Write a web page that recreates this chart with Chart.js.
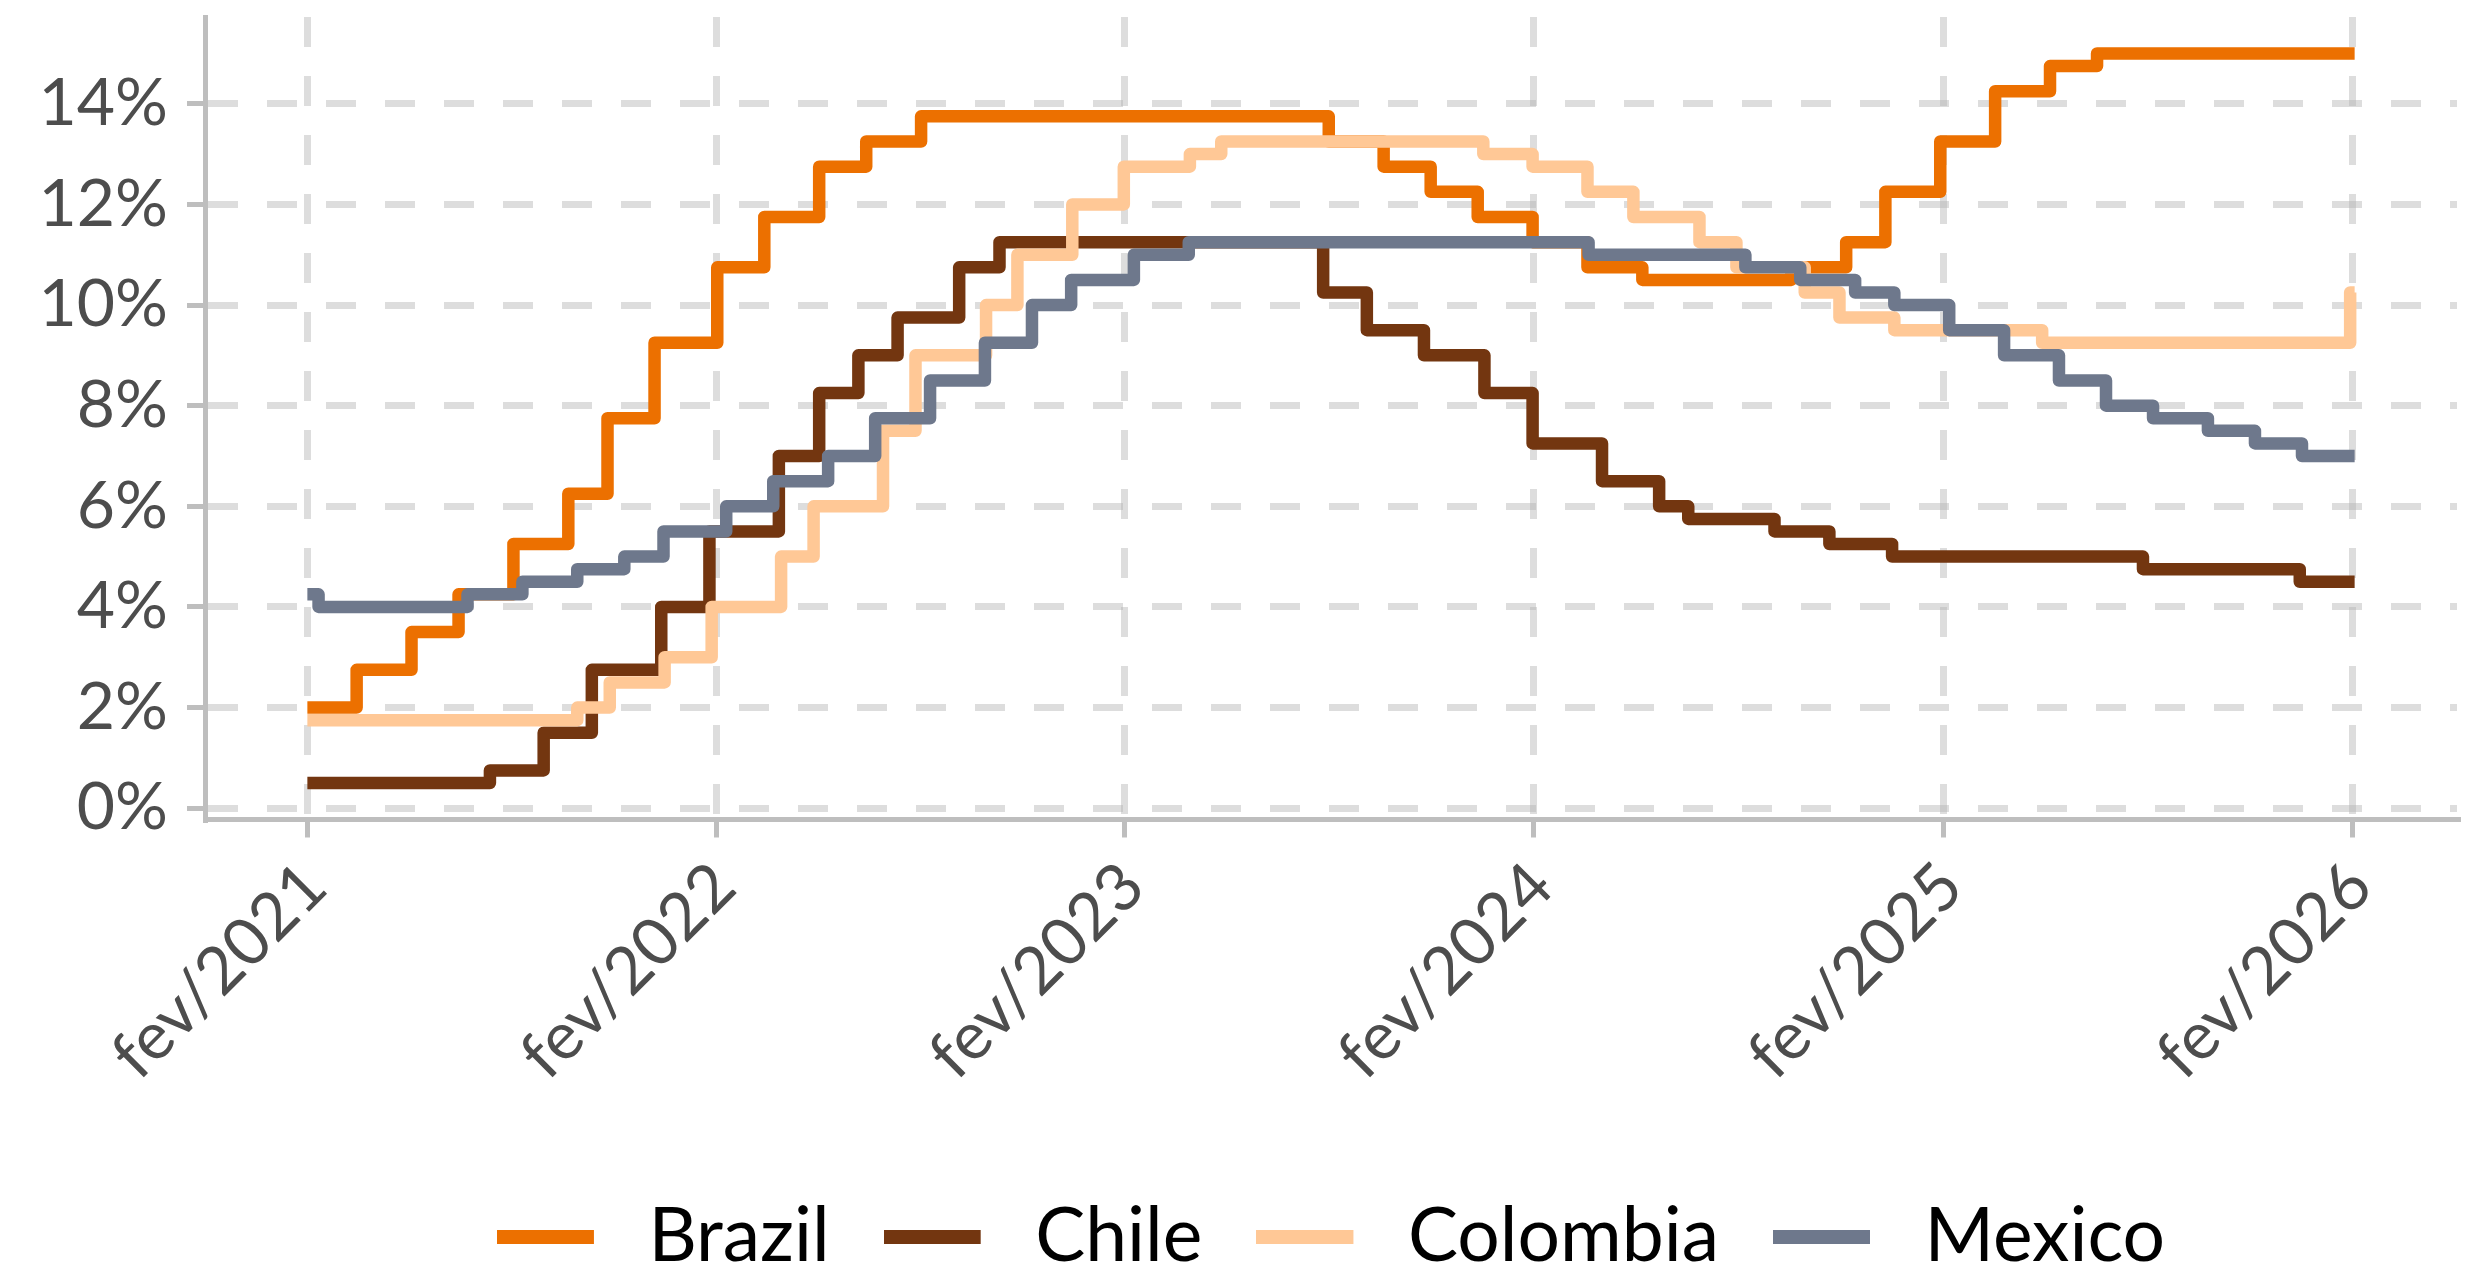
<!DOCTYPE html>
<html>
<head>
<meta charset="utf-8">
<title>Policy rates</title>
<script src="https://cdn.jsdelivr.net/npm/chart.js@4.4.1/dist/chart.umd.min.js"></script>
<style>
  html, body { margin: 0; padding: 0; background: #ffffff; }
  canvas { display: block; }
</style>
</head>
<body>
<canvas id="chart" width="2470" height="1276"></canvas>
<script>
// Policy rates (% a.a.), one entry per rate change
const brazilDates = ['2021-02-01', '2021-03-17', '2021-05-05', '2021-06-16', '2021-08-04', '2021-09-22', '2021-10-27', '2021-12-08',
    '2022-02-02', '2022-03-16', '2022-05-04', '2022-06-15', '2022-08-03', '2023-08-02', '2023-09-20', '2023-11-01', '2023-12-13',
    '2024-01-31', '2024-03-20', '2024-05-08', '2024-09-18', '2024-11-06', '2024-12-11', '2025-01-29', '2025-03-19', '2025-05-07', '2025-06-18'];
const brazilRates = [2.00, 2.75, 3.50, 4.25, 5.25, 6.25, 7.75, 9.25,
    10.75, 11.75, 12.75, 13.25, 13.75, 13.25, 12.75, 12.25, 11.75,
    11.25, 10.75, 10.50, 10.75, 11.25, 12.25, 13.25, 14.25, 14.75, 15.00];

const chileDates = ['2021-02-01', '2021-07-14', '2021-08-31', '2021-10-13', '2021-12-14', '2022-01-26', '2022-03-29', '2022-05-04',
    '2022-06-08', '2022-07-13', '2022-09-06', '2022-10-12', '2023-07-28', '2023-09-05', '2023-10-26', '2023-12-19',
    '2024-01-31', '2024-04-02', '2024-05-23', '2024-06-18', '2024-09-03', '2024-10-22', '2024-12-17', '2025-07-29', '2025-12-16'];
const chileRates = [0.50, 0.75, 1.50, 2.75, 4.00, 5.50, 7.00, 8.25,
    9.00, 9.75, 10.75, 11.25, 10.25, 9.50, 9.00, 8.25,
    7.25, 6.50, 6.00, 5.75, 5.50, 5.25, 5.00, 4.75, 4.50];

const colombiaDates = ['2021-02-01', '2021-09-30', '2021-10-29', '2021-12-17', '2022-01-28', '2022-03-31', '2022-04-29', '2022-06-30',
    '2022-07-29', '2022-09-30', '2022-10-28', '2022-12-16', '2023-01-31', '2023-03-31', '2023-04-28', '2023-12-18',
    '2024-01-31', '2024-03-20', '2024-04-30', '2024-06-28', '2024-07-31', '2024-09-30', '2024-10-31', '2024-12-19', '2025-04-30', '2026-01-30'];
const colombiaRates = [1.75, 2.00, 2.50, 3.00, 4.00, 5.00, 6.00, 7.50,
    9.00, 10.00, 11.00, 12.00, 12.75, 13.00, 13.25, 13.00,
    12.75, 12.25, 11.75, 11.25, 10.75, 10.25, 9.75, 9.50, 9.25, 10.25];

const mexicoDates = ['2021-02-01', '2021-02-11', '2021-06-24', '2021-08-12', '2021-09-30', '2021-11-11', '2021-12-16', '2022-02-10',
    '2022-03-24', '2022-05-12', '2022-06-23', '2022-08-11', '2022-09-29', '2022-11-10', '2022-12-15', '2023-02-09', '2023-03-30',
    '2024-03-21', '2024-08-08', '2024-09-26', '2024-11-14', '2024-12-19', '2025-02-06', '2025-03-27', '2025-05-15', '2025-06-26',
    '2025-08-07', '2025-09-25', '2025-11-06', '2025-12-18'];
const mexicoRates = [4.25, 4.00, 4.25, 4.50, 4.75, 5.00, 5.50, 6.00,
    6.50, 7.00, 7.75, 8.50, 9.25, 10.00, 10.50, 11.00, 11.25,
    11.00, 10.75, 10.50, 10.25, 10.00, 9.50, 9.00, 8.50, 8.00,
    7.75, 7.50, 7.25, 7.00];

const startDate = '2021-02-01';
const endDate = '2026-02-03';

const tickYears = [2021, 2022, 2023, 2024, 2025, 2026];
const tickLabels = ['fev/2021', 'fev/2022', 'fev/2023', 'fev/2024', 'fev/2025', 'fev/2026'];
const yTicks = [0, 2, 4, 6, 8, 10, 12, 14];

const toTime = (d) => Date.parse(d + 'T00:00:00Z');

// step series: hold each rate until the next change, close at endDate
const toPoints = (dates, rates) => {
    const pts = dates.map((d, i) => ({ x: toTime(d), y: rates[i] }));
    pts.push({ x: toTime(endDate), y: rates[rates.length - 1] });
    return pts;
};

// ggplot-like 5% expansion
const t0 = toTime(startDate), t1 = toTime(endDate);
const xMin = t0 - 0.05 * (t1 - t0);
const xMax = t1 + 0.05 * (t1 - t0);
const allRates = [].concat(brazilRates, chileRates, colombiaRates, mexicoRates);
const rLo = Math.min(...allRates), rHi = Math.max(...allRates);
const yMin = rLo - 0.05 * (rHi - rLo);
const yMax = rHi + 0.05 * (rHi - rLo);

const gridColor = 'rgba(180, 180, 180, 0.45)';
const axisColor = '#BEBEBE';
const tickFont = { family: 'Lato', size: 66 };

// legend key: short bar, with a bit of room before the label
const makeKey = (color) => {
    const c = document.createElement('canvas');
    c.width = 114;
    c.height = 14;
    const g = c.getContext('2d');
    g.fillStyle = color;
    g.fillRect(0, 0, 97, 14);
    return c;
};

const series = [
    { label: 'Brazil', dates: brazilDates, rates: brazilRates, color: '#EC7000', order: 4 },
    { label: 'Chile', dates: chileDates, rates: chileRates, color: '#733610', order: 3 },
    { label: 'Colombia', dates: colombiaDates, rates: colombiaRates, color: '#FFC896', order: 2 },
    { label: 'Mexico', dates: mexicoDates, rates: mexicoRates, color: '#6E788C', order: 1 }
];

const ctx = document.getElementById('chart').getContext('2d');
new Chart(ctx, {
    type: 'line',
    data: {
        datasets: series.map(s => ({
            label: s.label,
            data: toPoints(s.dates, s.rates),
            borderColor: s.color,
            backgroundColor: s.color,
            borderWidth: 12.5,
            borderJoinStyle: 'round',
            borderCapStyle: 'butt',
            stepped: 'before',
            pointRadius: 0,
            fill: false,
            order: s.order
        }))
    },
    options: {
        responsive: false,
        devicePixelRatio: 1,
        animation: false,
        events: [],
        layout: { padding: { top: 17, right: 13, left: 0, bottom: -8 } },
        scales: {
            x: {
                type: 'linear',
                min: xMin,
                max: xMax,
                afterBuildTicks: (s) => { s.ticks = tickYears.map(y => ({ value: Date.UTC(y, 1, 1) })); },
                afterFit: (s) => { s.height = 325.5; s.paddingLeft = 0; s.paddingRight = 0; },
                grid: { color: gridColor, lineWidth: 7, tickColor: axisColor, tickWidth: 5, tickLength: 18 },
                border: { display: true, color: axisColor, width: 5, dash: [30, 29] },
                ticks: {
                    autoSkip: false,
                    minRotation: 45,
                    maxRotation: 45,
                    padding: 10,
                    labelOffset: 8,
                    color: '#4D4D4D',
                    font: tickFont,
                    callback: (v, i) => tickLabels[i]
                }
            },
            y: {
                type: 'linear',
                min: yMin,
                max: yMax,
                afterBuildTicks: (s) => { s.ticks = yTicks.map(v => ({ value: v })); },
                afterFit: (s) => { s.width = 205; s.paddingTop = 0; s.paddingBottom = 0; },
                grid: { color: gridColor, lineWidth: 7, tickColor: axisColor, tickWidth: 5, tickLength: 18 },
                border: { display: true, color: axisColor, width: 5, dash: [30, 29] },
                ticks: {
                    padding: 19,
                    color: '#4D4D4D',
                    font: tickFont,
                    callback: (v) => v + '%'
                }
            }
        },
        plugins: {
            tooltip: { enabled: false },
            legend: {
                position: 'bottom',
                fullSize: false,
                labels: {
                    usePointStyle: true,
                    pointStyleWidth: 114,
                    padding: 54,
                    color: '#000000',
                    font: { family: 'Lato', size: 75 },
                    generateLabels: (chart) => chart.data.datasets.map((ds, i) => ({
                        text: ds.label,
                        pointStyle: makeKey(ds.borderColor),
                        fillStyle: ds.borderColor,
                        strokeStyle: ds.borderColor,
                        lineWidth: 0,
                        rotation: 0,
                        fontColor: '#000000',
                        hidden: false,
                        datasetIndex: i
                    }))
                }
            }
        }
    }
});
</script>
</body>
</html>
